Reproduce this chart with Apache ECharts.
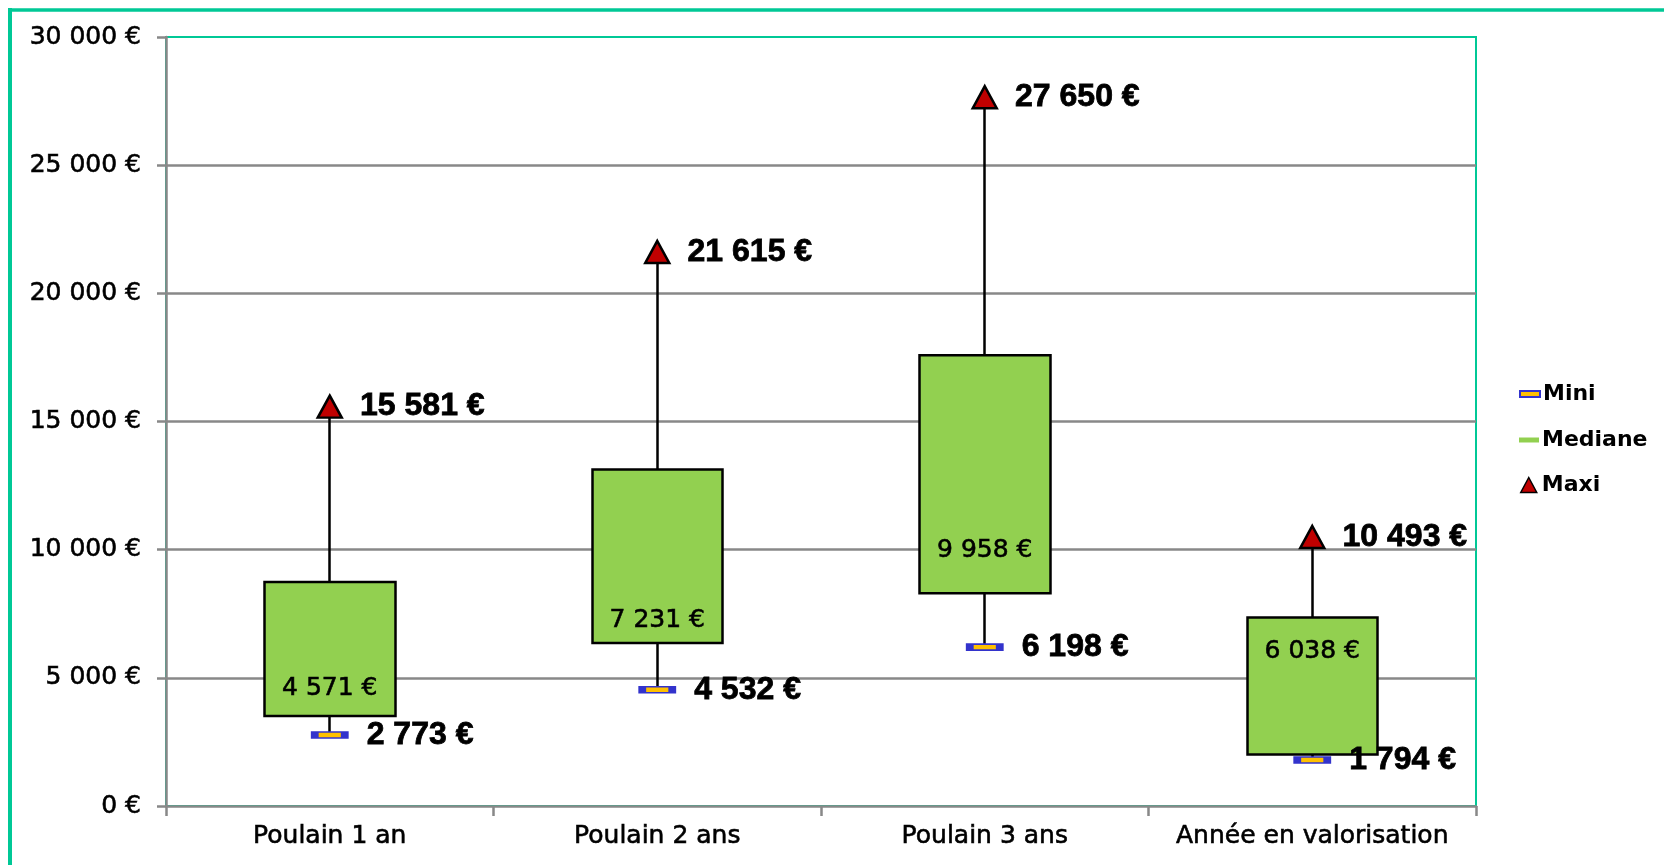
<!DOCTYPE html>
<html>
<head>
<meta charset="utf-8">
<script src="https://cdn.jsdelivr.net/npm/echarts@6/dist/echarts.min.js"></script>
<style>
html,body{margin:0;padding:0;background:#fff;}
#chart{width:1664px;height:865px;}
</style>
</head>
<body>
<div id="chart"></div>
<script>
// ---- data ----
const categories = ['Poulain 1 an', 'Poulain 2 ans', 'Poulain 3 ans', 'Année en valorisation'];
const mini = [2773, 4532, 6198, 1794];
const mediane = [4571, 7231, 9958, 6038];
const maxi = [15581, 21615, 27650, 10493];
const q1 = [3510, 6360, 8300, 2010];
const q3 = [8740, 13130, 17580, 7350];
const yTicks = [0, 5000, 10000, 15000, 20000, 25000, 30000];

function fmt(v) {
  return String(Math.round(v)).replace(/\B(?=(\d{3})+(?!\d))/g, ' ') + ' €';
}

const FONT = 'DejaVu Sans';
const THICK = {textBorderColor: '#000', textBorderWidth: 0.6};
const chart = echarts.init(document.getElementById('chart'), null, {renderer: 'canvas'});

const option = {
  animation: false,
  backgroundColor: '#ffffff',
  grid: {
    left: 166, right: 188, top: 37, bottom: 59,
    show: true, borderColor: '#00c896', borderWidth: 2, backgroundColor: 'transparent'
  },
  xAxis: {
    type: 'category',
    data: categories,
    boundaryGap: true,
    axisLine: {lineStyle: {color: '#888888', width: 2.5}},
    axisTick: {show: true, length: 10, lineStyle: {color: '#888888', width: 2.5}},
    axisLabel: Object.assign({fontFamily: FONT, fontSize: 25, color: '#000', margin: 18, interval: 0}, THICK),
    splitLine: {show: false}
  },
  yAxis: {
    type: 'value',
    min: yTicks[0], max: yTicks[yTicks.length - 1], interval: 5000,
    axisLine: {show: true, lineStyle: {color: '#888888', width: 2.5}},
    axisTick: {show: true, length: 9, lineStyle: {color: '#888888', width: 2.5}},
    axisLabel: Object.assign({fontFamily: FONT, fontSize: 25, color: '#000', margin: 25, formatter: fmt}, THICK),
    splitLine: {show: true, showMaxLine: false, showMinLine: false, lineStyle: {color: '#888888', width: 2.5}}
  },
  legend: [
    {
      data: [{name: 'Mini', icon: 'rect', itemStyle: {borderWidth: 2, borderColor: '#3333cc', color: '#ffc000', opacity: 1}}],
      orient: 'vertical', left: 1519, top: 383, padding: 0,
      itemWidth: 20, itemHeight: 6, selectedMode: false,
      textStyle: {fontFamily: FONT, fontSize: 22, fontWeight: 'bold', color: '#000', padding: [0,0,0,-2]}
    },
    {
      data: [{name: 'Mediane', icon: 'rect', itemStyle: {color: '#92d050', borderWidth: 0, opacity: 1}}],
      orient: 'vertical', left: 1519, top: 429, padding: 0,
      itemWidth: 20, itemHeight: 5, selectedMode: false,
      textStyle: {fontFamily: FONT, fontSize: 22, fontWeight: 'bold', color: '#000', padding: [0,0,0,-2]}
    },
    {
      data: [{name: 'Maxi', icon: 'triangle', itemStyle: {color: '#c00000', borderColor: '#000', borderWidth: 1.5, opacity: 1}}],
      orient: 'vertical', left: 1520, top: 474, padding: 0,
      itemWidth: 16, itemHeight: 15, selectedMode: false,
      textStyle: {fontFamily: FONT, fontSize: 22, fontWeight: 'bold', color: '#000'}
    }
  ],
  graphic: [
    {type: 'line', shape: {x1: 8, y1: 10, x2: 1664, y2: 10}, style: {stroke: '#00c896', lineWidth: 3.5}, silent: true},
    {type: 'line', shape: {x1: 10, y1: 8, x2: 10, y2: 865}, style: {stroke: '#00c896', lineWidth: 4}, silent: true}
  ],
  series: [
    {
      name: 'Boites',
      type: 'candlestick',
      barWidth: '40%',
      data: categories.map((c, i) => [q1[i], q3[i], mini[i], maxi[i]]),
      itemStyle: {
        color: '#92d050', color0: '#92d050',
        borderColor: '#000', borderColor0: '#000', borderWidth: 2.5, opacity: 1
      },
      z: 2
    },
    {
      name: 'Mediane',
      type: 'scatter',
      data: mediane,
      symbol: 'rect',
      symbolSize: 1,
      itemStyle: {color: '#92d050', opacity: 1},
      label: Object.assign({
        show: true, position: 'inside',
        fontFamily: FONT, fontSize: 25, color: '#000',
        formatter: p => fmt(p.value)
      }, THICK),
      z: 3
    },
    {
      name: 'Mini',
      type: 'scatter',
      data: mini,
      symbol: 'rect',
      symbolSize: [30, 6],
      itemStyle: {color: '#ffc000', borderColor: '#3333cc', borderWidth: 3.5, opacity: 1},
      label: {
        show: true, position: 'right', distance: 18,
        fontFamily: 'Liberation Sans', fontWeight: 'bold', fontSize: 32, color: '#000',
        textBorderColor: '#000', textBorderWidth: 0.8,
        formatter: p => fmt(p.value)
      },
      z: 4
    },
    {
      name: 'Maxi',
      type: 'scatter',
      data: maxi,
      symbol: 'triangle',
      symbolSize: [24, 22],
      itemStyle: {color: '#c00000', borderColor: '#000', borderWidth: 2.5, opacity: 1},
      label: {
        show: true, position: 'right', distance: 17,
        fontFamily: 'Liberation Sans', fontWeight: 'bold', fontSize: 32, color: '#000',
        textBorderColor: '#000', textBorderWidth: 0.8,
        formatter: p => fmt(p.value)
      },
      z: 4
    }
  ]
};
chart.setOption(option);
</script>
</body>
</html>
